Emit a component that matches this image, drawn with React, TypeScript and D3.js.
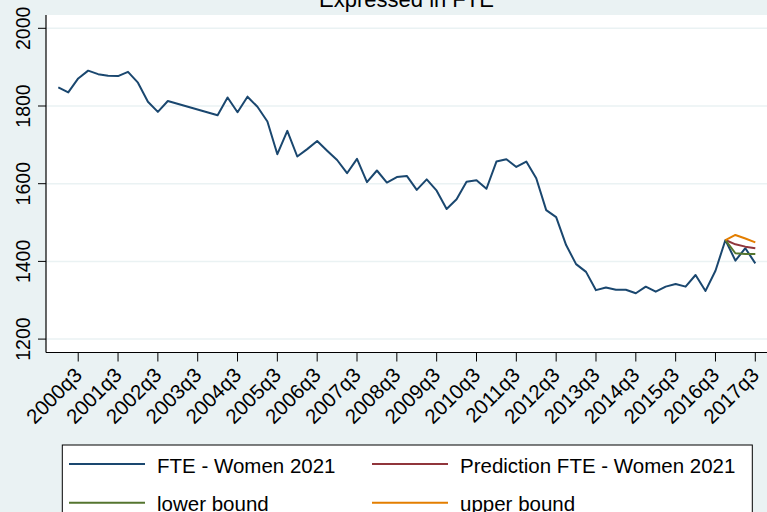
import * as React from "react";
import * as d3 from "d3";

// quarters 2000q1 .. 2017q3
const years = d3.range(2000, 2018);
const quarters: string[] = years.flatMap((y) => [1, 2, 3, 4].map((q) => `${y}q${q}`)).slice(0, 71);

// FTE - Women 2021 (null = no observation)
const fteValues: (number | null)[] = [
  1848, 1835, 1871, 1891,
  1882, 1878, 1877, 1888,
  1860, 1811, 1785, 1813,
  null, null, null, null,
  1776, 1822, 1784, 1824,
  1798, 1760, 1676, 1736,
  1670, 1689, 1710, 1685,
  1661, 1627, 1664, 1604,
  1634, 1603, 1617, 1620,
  1584, 1611, 1582, 1535,
  1560, 1605, 1609, 1587,
  1657, 1663, 1643, 1657,
  1614, 1532, 1514, 1442,
  1393, 1373, 1326, 1333,
  1327, 1327, 1318, 1335,
  1322, 1335, 1342, 1335,
  1365, 1324, 1376, 1455,
  1402, 1434, 1395,
];

const predQuarters = ["2016q4", "2017q1", "2017q2", "2017q3"];
const predValues = [1455, 1444, 1438, 1434];
const lowerValues = [1455, 1421, 1419, 1419];
const upperValues = [1455, 1468, 1459, 1449];

const xTickLabels = years.map((y) => `${y}q3`);
const yTicks = [1200, 1400, 1600, 1800, 2000];

const colors = {
  fte: "#1a476f",
  pred: "#90353b",
  lower: "#55752f",
  upper: "#e37e00",
};

const W = 767;
const H = 512;
const plot = { left: 46, top: 15, right: 767, bottom: 352.5 };
const font = "Liberation Sans, Arial, sans-serif";

export default function App() {
  const x = d3
    .scaleLinear()
    .domain([0, quarters.length - 1])
    .range([58.3, 755.3]);
  const y = d3.scaleLinear().domain([1200, 2000]).range([339.1, 28.3]);
  const qx = (q: string) => x(quarters.indexOf(q));

  const line = d3
    .line<[number, number]>()
    .x((d) => d[0])
    .y((d) => y(d[1]));

  const fteData: [number, number][] = [];
  fteValues.forEach((v, i) => {
    if (v != null) fteData.push([x(i), v]);
  });
  const mk = (vals: number[]): [number, number][] => vals.map((v, i) => [qx(predQuarters[i]), v]);

  const legendItems = [
    { label: "FTE - Women 2021", color: colors.fte, col: 0, row: 0 },
    { label: "Prediction FTE - Women 2021", color: colors.pred, col: 1, row: 0 },
    { label: "lower bound", color: colors.lower, col: 0, row: 1 },
    { label: "upper bound", color: colors.upper, col: 1, row: 1 },
  ];
  const colX = [69, 372];

  return (
    <svg width={W} height={H} style={{ display: "block", position: "absolute", left: 0, top: 0 }} fontFamily={font}>
      <rect x={0} y={0} width={W} height={H} fill="#eaf2f3" />
      <rect x={plot.left} y={plot.top} width={plot.right - plot.left} height={plot.bottom - plot.top} fill="#ffffff" />

      {/* title */}
      <text x={(plot.left + plot.right) / 2} y={6.5} textAnchor="middle" fontSize={22} fill="#000">
        Expressed in FTE
      </text>

      {/* grid lines + y axis */}
      {yTicks.map((t) => (
        <g key={t}>
          <line x1={plot.left} x2={plot.right} y1={y(t)} y2={y(t)} stroke="#eaf2f3" strokeWidth={1.5} />
          <line x1={plot.left - 8} x2={plot.left} y1={y(t)} y2={y(t)} stroke="#000" strokeWidth={1} />
          <text
            transform={`translate(${29.5},${y(t)}) rotate(-90)`}
            textAnchor="middle"
            fontSize={19.5}
            fill="#000"
          >
            {t}
          </text>
        </g>
      ))}
      <line x1={plot.left} x2={plot.left} y1={plot.top} y2={plot.bottom} stroke="#000" strokeWidth={1.2} />

      {/* x axis */}
      <line x1={plot.left} x2={plot.right} y1={plot.bottom} y2={plot.bottom} stroke="#000" strokeWidth={1.2} />
      {xTickLabels.map((lab) => {
        const px = qx(lab);
        return (
          <g key={lab}>
            <line x1={px} x2={px} y1={plot.bottom} y2={plot.bottom + 9} stroke="#000" strokeWidth={1} />
            <text
              transform={`translate(${px + 5},${plot.bottom + 24}) rotate(-45)`}
              textAnchor="end"
              fontSize={20.5}
              fill="#000"
            >
              {lab}
            </text>
          </g>
        );
      })}

      {/* series */}
      <path d={line(fteData) ?? ""} fill="none" stroke={colors.fte} strokeWidth={2} strokeLinejoin="round" />
      <path d={line(mk(predValues)) ?? ""} fill="none" stroke={colors.pred} strokeWidth={2} strokeLinejoin="round" />
      <path d={line(mk(lowerValues)) ?? ""} fill="none" stroke={colors.lower} strokeWidth={2} strokeLinejoin="round" />
      <path d={line(mk(upperValues)) ?? ""} fill="none" stroke={colors.upper} strokeWidth={2} strokeLinejoin="round" />

      {/* legend */}
      <rect x={62.3} y={445} width={690} height={80} fill="#fff" stroke="#000" strokeWidth={1} />
      {legendItems.map((it) => {
        const ly = 464 + it.row * 38.7;
        return (
          <g key={it.label}>
            <line x1={colX[it.col]} x2={colX[it.col] + 76} y1={ly} y2={ly} stroke={it.color} strokeWidth={2} />
            <text x={colX[it.col] + 88} y={ly + 9 - it.row * 1.2} fontSize={20.5} fill="#000">
              {it.label}
            </text>
          </g>
        );
      })}
    </svg>
  );
}
